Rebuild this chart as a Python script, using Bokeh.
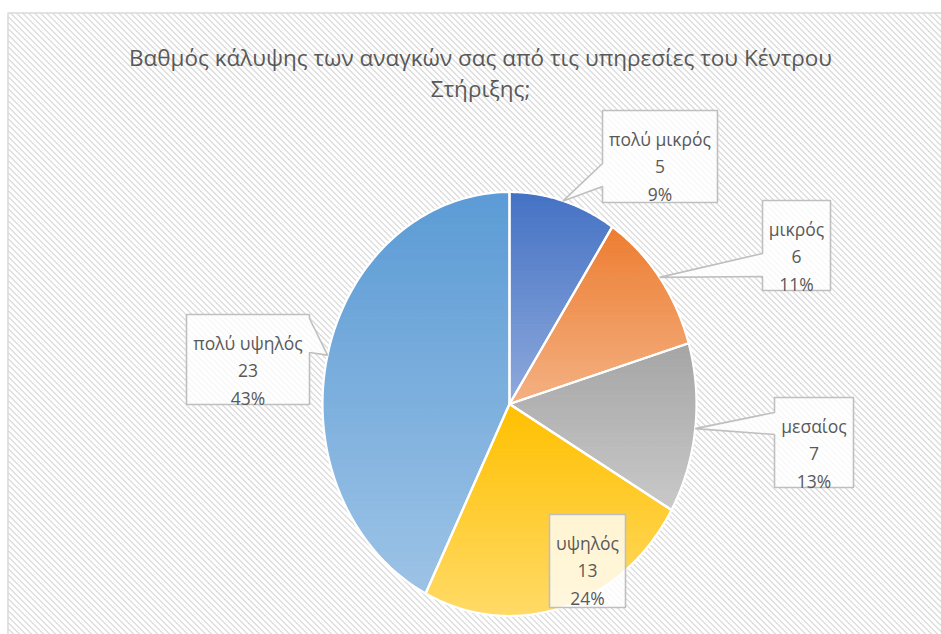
import numpy as np
from bokeh.plotting import figure
from bokeh.models import Range1d
from bokeh.core.properties import value
from bokeh.embed import file_html
from bokeh.resources import INLINE

# ---------------- data ----------------
title_lines = ["Βαθμός κάλυψης των αναγκών σας από τις υπηρεσίες του Κέντρου", "Στήριξης;"]
categories = ["πολύ μικρός", "μικρός", "μεσαίος", "υψηλός", "πολύ υψηλός"]
counts = [5, 6, 7, 13, 23]

# ---------------- styles ----------------
top_colors = ["#4472C4", "#ED7D31", "#A5A5A5", "#FFC000", "#5B9BD5"]
bottom_colors = ["#8FAADC", "#F4B183", "#C9C9C9", "#FFDA66", "#9DC3E6"]
text_color = "#595959"
FONT = value("Open Sans")

# ---------------- layout (page pixels) ----------------
W, H = 941, 634
cx, cy, rx, ry = 509.0, 403.5, 187.0, 212.0
# label boxes: (left, top, right, bottom, tail side, tail offsets from box top)
boxes = [
    (602, 110, 717, 202, "left", 53, 76),
    (762, 200, 830, 290, "left", 53, 76),
    (774, 397, 853, 487, "left", 15, 37),
    (549, 514, 625, 607, None, 0, 0),
    (186, 314, 309, 404, "right", 4, 38),
]
area = (7.5, 12.5, W + 5, H + 5)  # chart area left, top, right, bottom
stripe_step = 6.0

p = figure(width=W, height=H, x_range=Range1d(0, W), y_range=Range1d(H, 0),
           output_backend="svg", toolbar_location=None, min_border=0,
           x_axis_location=None, y_axis_location=None)
p.grid.visible = False
p.outline_line_color = None
p.background_fill_color = "white"
p.border_fill_color = "white"

# chart area with diagonal-striped background
ax0, ay0, ax1, ay1 = area
p.quad(left=[ax0], right=[ax1], top=[ay0], bottom=[ay1],
       fill_color="white", line_color=None)
sx0, sy0, sx1, sy1 = [], [], [], []
for c in np.arange(ay0 - ax1, ay1 - ax0, stripe_step):
    xa = max(ax0, ay0 - c)
    xb = min(ax1, ay1 - c)
    if xb <= xa:
        continue
    sx0.append(xa); sy0.append(xa + c)
    sx1.append(xb); sy1.append(xb + c)
p.segment(sx0, sy0, sx1, sy1, line_color="#DCDCDC", line_width=1.3)
p.quad(left=[ax0], right=[ax1], top=[ay0], bottom=[ay1],
       fill_color=None, line_color="#D9D9D9", line_width=1.5)

total = float(sum(counts))
cum = np.concatenate([[0.0], np.cumsum(counts)])


def ell(theta):
    return cx + rx * np.sin(theta), cy - ry * np.cos(theta)


def hexrgb(h):
    h = h.lstrip("#")
    return np.array([int(h[i:i + 2], 16) for i in (0, 2, 4)], dtype=float)


def mix(c0, c1, t):
    c = hexrgb(c0) * (1 - t) + hexrgb(c1) * t
    return "#%02x%02x%02x" % tuple(int(round(v)) for v in c)


def clip_half(pts, keep, inter):
    out = []
    n = len(pts)
    for i in range(n):
        cur, prev = pts[i], pts[i - 1]
        if keep(cur):
            if not keep(prev):
                out.append(inter(prev, cur))
            out.append(cur)
        elif keep(prev):
            out.append(inter(prev, cur))
    return out


def ycut(yc):
    def f(a, b):
        t = (yc - a[1]) / (b[1] - a[1])
        return (a[0] + t * (b[0] - a[0]), yc)
    return f


def clip_band(poly, y0, y1):
    pts = clip_half(poly, lambda q: q[1] >= y0, ycut(y0))
    if len(pts) < 3:
        return []
    pts = clip_half(pts, lambda q: q[1] <= y1, ycut(y1))
    return pts if len(pts) >= 3 else []


band_xs, band_ys, band_cols = [], [], []
out_xs, out_ys = [], []
tips = []
NB = 48
for i, c in enumerate(counts):
    a0 = cum[i] / total * 2 * np.pi
    a1 = cum[i + 1] / total * 2 * np.pi
    th = np.linspace(a0, a1, 120)
    exs, eys = ell(th)
    poly = [(cx, cy)] + list(zip(exs, eys))
    out_xs.append([q[0] for q in poly])
    out_ys.append([q[1] for q in poly])
    ys = [q[1] for q in poly]
    ymin, ymax = min(ys), max(ys)
    edges = np.linspace(ymin, ymax, NB + 1)
    for k in range(NB):
        seg = clip_band(poly, edges[k] - 0.3, edges[k + 1] + 0.3)
        if not seg:
            continue
        band_xs.append([q[0] for q in seg])
        band_ys.append([q[1] for q in seg])
        band_cols.append(mix(top_colors[i], bottom_colors[i], (k + 0.5) / NB))
    mid = (a0 + a1) / 2
    tips.append(ell(mid))

p.patches(band_xs, band_ys, fill_color=band_cols, line_color=band_cols, line_width=0.6)
p.patches(out_xs, out_ys, fill_color=None, line_color="white", line_width=2.2, line_join="round")

# callouts
cxs, cys = [], []
for (x0, y0, x1, y1, side, o1, o2), (tx, ty) in zip(boxes, tips):
    if side == "left":
        pts = [(x0, y0), (x1, y0), (x1, y1), (x0, y1), (x0, y0 + o2), (tx, ty), (x0, y0 + o1)]
    elif side == "right":
        pts = [(x0, y0), (x1, y0), (x1, y0 + o1), (tx, ty), (x1, y0 + o2), (x1, y1), (x0, y1)]
    else:
        pts = [(x0, y0), (x1, y0), (x1, y1), (x0, y1)]
    cxs.append([q[0] for q in pts])
    cys.append([q[1] for q in pts])
p.patches(cxs, cys, fill_color="white", fill_alpha=0.78, line_color="#BFBFBF", line_width=1.6)

lx, ly, lt = [], [], []
for (x0, y0, x1, y1, side, o1, o2), cat, c in zip(boxes, categories, counts):
    xm = (x0 + x1) / 2
    pct = "%d%%" % int(round(c / total * 100))
    for j, s in enumerate([cat, str(c), pct]):
        lx.append(xm)
        ly.append(y0 + 28 + 27.5 * j)
        lt.append(s)
p.text(lx, ly, text=lt, text_align="center", text_baseline="alphabetic",
       text_font=FONT, text_font_size="17.5px", text_color=text_color)

p.text([480, 480], [57, 88], text=title_lines, text_align="center", text_baseline="alphabetic",
       text_font=FONT, text_font_size="22.5px", text_color=text_color)

open("out.html", "w").write(file_html(p, INLINE))
